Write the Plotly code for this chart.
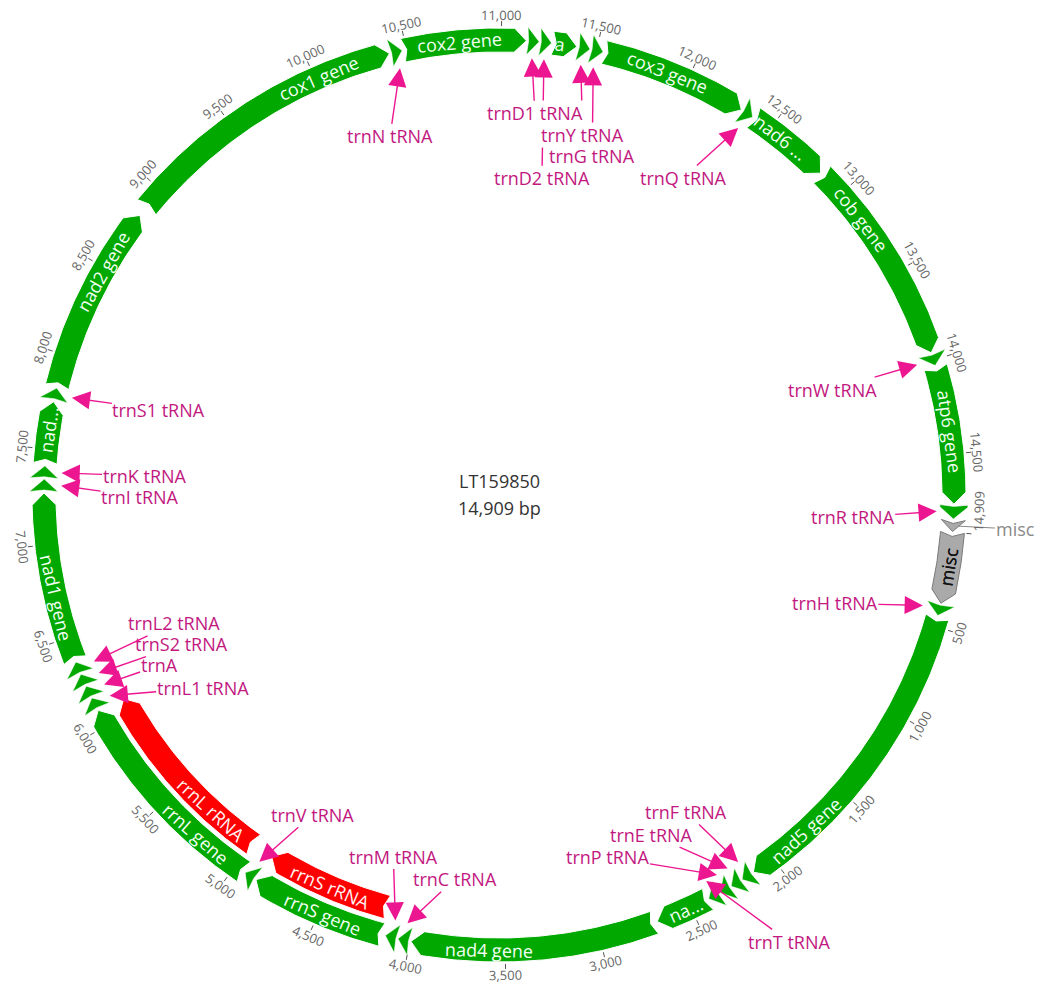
import math
import plotly.graph_objects as go

# ---------------- data ----------------
SEQ_NAME = "LT159850"
SEQ_LEN = 14909

# outer track (genes, tRNA genes, misc) - all forward strand
feat_label = ["misc", "trnH", "nad5 gene", "trnF", "trnE", "trnP", "trnT", "na...", "nad4 gene",
              "trnC", "trnM", "rrnS gene", "trnV", "rrnL gene", "trnL1", "trnA", "trnS2", "trnL2",
              "nad1 gene", "trnI", "trnK", "nad...", "trnS1", "nad2 gene", "cox1 gene", "trnN",
              "cox2 gene", "trnD1", "trnD2", "a", "trnY", "trnG", "cox3 gene", "trnQ", "nad6 ...",
              "cob gene", "trnW", "atp6 gene", "trnR", "misc"]
feat_type = ["misc", "trna", "gene", "trna", "trna", "trna", "trna", "gene", "gene",
             "trna", "trna", "gene", "trna", "gene", "trna", "trna", "trna", "trna",
             "gene", "trna", "trna", "gene", "trna", "gene", "gene", "trna",
             "gene", "trna", "trna", "gene", "trna", "trna", "gene", "trna", "gene",
             "gene", "trna", "gene", "trna", "misc"]
feat_start = [1, 378, 450, 2130, 2197, 2264, 2331, 2400, 2705,
              4000, 4067, 4150, 4875, 4945, 6098, 6166, 6234, 6302,
              6378, 7278, 7347, 7425, 7758, 7830, 8885, 10414,
              10482, 11134, 11200, 11266, 11400, 11468, 11540, 12325, 12395,
              12860, 13965, 14038, 14766, 14845]
feat_end = [375, 442, 2125, 2195, 2262, 2329, 2396, 2690, 3995,
            4064, 4132, 4870, 4937, 6090, 6163, 6231, 6299, 6368,
            7270, 7343, 7412, 7750, 7823, 8830, 10410, 10478,
            11130, 11197, 11262, 11395, 11465, 11535, 12320, 12390, 12850,
            13960, 14030, 14762, 14840, 14905]

# inner track rRNAs
rrna_label = ["rrnS rRNA", "rrnL rRNA"]
rrna_start = [4160, 4985]
rrna_end = [4865, 6080]

# tRNA features (labelled with leader arrows)
trna_label = ["trnD2 tRNA", "trnG tRNA", "trnY tRNA", "trnD1 tRNA", "trnH tRNA", "trnF tRNA",
              "trnE tRNA", "trnP tRNA", "trnT tRNA", "trnC tRNA", "trnM tRNA", "trnV tRNA",
              "trnL1 tRNA", "trnA", "trnS2 tRNA", "trnL2 tRNA", "trnI tRNA", "trnK tRNA",
              "trnS1 tRNA", "trnN tRNA", "trnQ tRNA", "trnW tRNA", "trnR tRNA"]
trna_start = [11200, 11468, 11400, 11134, 378, 2130, 2197, 2264, 2331, 4000, 4067, 4875,
              6098, 6166, 6234, 6302, 7278, 7347, 7758, 10414, 12325, 13965, 14766]
trna_end = [11262, 11535, 11465, 11197, 442, 2195, 2262, 2329, 2396, 4064, 4132, 4937,
            6163, 6231, 6299, 6368, 7343, 7412, 7823, 10478, 12390, 14030, 14840]

misc_small_label = "misc"

tick_values = [500, 1000, 1500, 2000, 2500, 3000, 3500, 4000, 4500, 5000, 5500, 6000, 6500,
               7000, 7500, 8000, 8500, 9000, 9500, 10000, 10500, 11000, 11500, 12000, 12500,
               13000, 13500, 14000, 14500, 14909]

# ---------------- layout / style ----------------
ROT_DEG = 4.7            # angle of origin, clockwise from east
R1_IN, R1_OUT = 443, 467
R2_IN, R2_OUT = 415, 439
R_TIP = 438
R_TICK_IN, R_TICK_OUT = 469, 474
R_TICK_LBL = 480
HEAD_PX = 12
NOTCH_PX = 4

GREEN = "#00A800"
RED = "#FF0000"
GRAY = "#AAAAAA"
PINK = "#EC1690"
PINK_TEXT = "#C2187F"
FONT = "Open Sans, Noto Sans, DejaVu Sans, sans-serif"
GENE_FS = 18
TRNA_FS = 18
TICK_FS = 13

# label anchor positions (bp) for feature names
gene_label_anchor = {"misc": 182, "nad5 gene": 1772, "na...": 2530, "nad4 gene": 3584,
                     "rrnS gene": 4478, "rrnL gene": 5263, "nad1 gene": 6721, "nad...": 7600,
                     "nad2 gene": 8477, "cox1 gene": 10017, "cox2 gene": 10783, "a": 11305,
                     "cox3 gene": 11885, "nad6 ...": 12568, "cob gene": 13169, "atp6 gene": 14381}
rrna_label_anchor = {"rrnS rRNA": 4497, "rrnL rRNA": 5288}
trna_offset = [(-2, 119), (-1, 89), (2, 70), (3, 55), (-88, -2), (-52, -50),
               (-76, -34), (-109, -18), (83, 61), (47, -44), (-2, -64), (53, -47),
               (93, -8), (55, -19), (83, -29), (80, -38), (79, 11), (83, 3),
               (87, 12), (-10, 68), (-55, 50), (-85, 25), (-84, 6)]


def bp2deg(p):
    return ROT_DEG + p / SEQ_LEN * 360.0


def polar_xy(p, r, dshift=0.0):
    t = math.radians(bp2deg(p) + dshift)
    return r * math.cos(t), -r * math.sin(t)


def read_angle(p, dshift=0.0):
    a = bp2deg(p) + dshift + 90.0
    a = (a + 180.0) % 360.0 - 180.0
    if a > 90:
        a -= 180
    elif a <= -90:
        a += 180
    return a


def arc(p0, p1, r):
    n = max(2, int(abs(p1 - p0) / 15) + 1)
    pts = [polar_xy(p0 + (p1 - p0) * i / (n - 1), r) for i in range(n)]
    return [q[0] for q in pts], [q[1] for q in pts]


def arrow_shape(s, e, r_in, r_out, notch_px=NOTCH_PX):
    r_mid = (r_in + r_out) / 2
    bpp = SEQ_LEN / (2 * math.pi * r_mid)
    L = e - s
    head = min(L, HEAD_PX * bpp)
    notch = min(notch_px * bpp, 0.3 * L)
    xo, yo = arc(s, e - head, r_out)
    tx, ty = polar_xy(e, r_mid)
    xi, yi = arc(e - head, s, r_in)
    nx, ny = polar_xy(s + notch, r_mid)
    xs = xo + [tx] + xi + [nx, xo[0]]
    ys = yo + [ty] + yi + [ny, yo[0]]
    return xs, ys


fig = go.Figure()
annotations = []

# outer track
for lab, typ, s, e in zip(feat_label, feat_type, feat_start, feat_end):
    if typ == "gene":
        xs, ys = arrow_shape(s, e, R1_IN, R1_OUT)
        fc, lc, lw = GREEN, "white", 1
    elif typ == "trna":
        xs, ys = arrow_shape(s, e, R1_IN - 2, R1_OUT + 2, notch_px=1.5)
        fc, lc, lw = GREEN, "white", 0.6
    else:
        xs, ys = arrow_shape(s, e, R1_IN, R1_OUT)
        fc, lc, lw = GRAY, "#7A7A7A", 1
    fig.add_trace(go.Scatter(x=xs, y=ys, mode="lines", fill="toself", fillcolor=fc,
                             line=dict(color=lc, width=lw), hoverinfo="text",
                             text=f"{lab} {s}-{e}", showlegend=False))

# small misc label (pointer)
mx, my = polar_xy(feat_start[-1] + (feat_end[-1] - feat_start[-1]) / 2, 460)
annotations.append(dict(x=mx, y=my, xref="x", yref="y", text=misc_small_label, showarrow=True,
                        arrowhead=0, arrowwidth=1, arrowcolor="#8A8A8A", ax=58, ay=3,
                        font=dict(family=FONT, size=TRNA_FS, color="#8A8A8A")))

# inner track rRNAs
for lab, s, e in zip(rrna_label, rrna_start, rrna_end):
    xs, ys = arrow_shape(s, e, R2_IN, R2_OUT)
    fig.add_trace(go.Scatter(x=xs, y=ys, mode="lines", fill="toself", fillcolor=RED,
                             line=dict(color="white", width=1), hoverinfo="text",
                             text=f"{lab} {s}-{e}", showlegend=False))

# feature labels
for lab in feat_label:
    if lab in gene_label_anchor:
        p = gene_label_anchor[lab]
        x, y = polar_xy(p, (R1_IN + R1_OUT) / 2)
        color = "#111111" if lab == "misc" else "#F2FFF2"
        annotations.append(dict(x=x, y=y, xref="x", yref="y", text=lab, showarrow=False,
                                textangle=read_angle(p), font=dict(family=FONT, size=GENE_FS, color=color)))
for lab in rrna_label:
    p = rrna_label_anchor[lab]
    x, y = polar_xy(p, (R2_IN + R2_OUT) / 2)
    annotations.append(dict(x=x, y=y, xref="x", yref="y", text=lab, showarrow=False,
                            textangle=read_angle(p), font=dict(family=FONT, size=GENE_FS, color="#FFF2F2")))

# ticks
tx, ty = [], []
for v in tick_values:
    x0, y0 = polar_xy(v, R_TICK_IN)
    x1, y1 = polar_xy(v, R_TICK_OUT)
    tx += [x0, x1, None]
    ty += [y0, y1, None]
    shift = -2.8 if v == SEQ_LEN else 0.0
    lx, ly = polar_xy(v, R_TICK_LBL, shift)
    annotations.append(dict(x=lx, y=ly, xref="x", yref="y", text=f"{v:,}", showarrow=False,
                            textangle=read_angle(v, shift),
                            font=dict(family=FONT, size=TICK_FS, color="#666666")))
fig.add_trace(go.Scatter(x=tx, y=ty, mode="lines", line=dict(color="#555555", width=1),
                         hoverinfo="skip", showlegend=False))

# tRNA labels with arrows
for lab, s, e, (ox, oy) in zip(trna_label, trna_start, trna_end, trna_offset):
    x, y = polar_xy((s + e) / 2, R_TIP)
    annotations.append(dict(x=x, y=y, xref="x", yref="y", text=lab, showarrow=True,
                            arrowhead=2, arrowsize=2.6, arrowwidth=1.4, arrowcolor=PINK,
                            ax=ox, ay=oy, bgcolor="white", borderpad=0,
                            font=dict(family=FONT, size=TRNA_FS, color=PINK_TEXT)))

# centre text
annotations.append(dict(x=0, y=14, xref="x", yref="y", text=SEQ_NAME, showarrow=False,
                        font=dict(family=FONT, size=TRNA_FS, color="#333333")))
annotations.append(dict(x=0, y=-13, xref="x", yref="y", text=f"{SEQ_LEN:,} bp", showarrow=False,
                        font=dict(family=FONT, size=TRNA_FS, color="#333333")))

W, H = 1042, 984
CX, CY = 499, 495
fig.update_layout(
    width=W, height=H, autosize=False,
    margin=dict(l=0, r=0, t=0, b=0),
    paper_bgcolor="white", plot_bgcolor="white",
    xaxis=dict(range=[-CX, W - CX], visible=False, fixedrange=True),
    yaxis=dict(range=[-(H - CY), CY], visible=False, fixedrange=True),
    annotations=annotations,
    font=dict(family=FONT),
)

fig.write_html("out.html", config={"displayModeBar": False},
               post_script="document.body.style.margin='0';document.body.style.overflow='hidden';")
